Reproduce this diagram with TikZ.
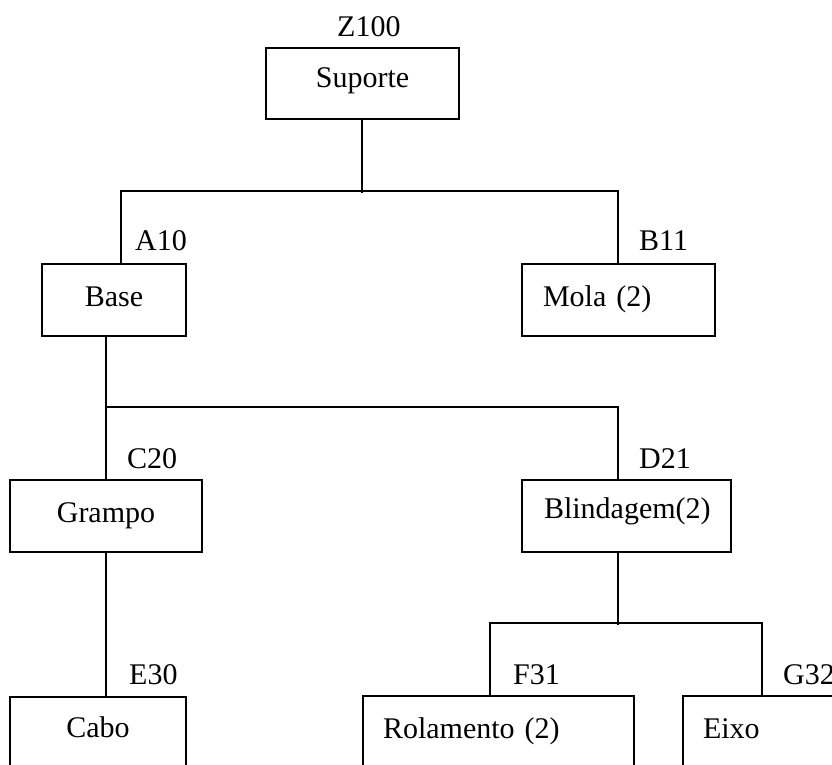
\documentclass[tikz,border=0pt]{standalone}
\usepackage{fontspec}
\setmainfont{Liberation Serif}
\begin{document}
\begin{tikzpicture}[x=1pt,y=-1pt,
  txt/.style={font=\fontsize{30}{32}\selectfont},
  part/.style={txt, draw, line width=1.8pt, minimum height=72pt,
    text height=20pt, text depth=8pt, inner ysep=0pt},
  ctr/.style={part, align=center, inner xsep=0pt},
  lft/.style={part, align=left},
  code/.style={txt, anchor=base west, inner sep=0pt},
  wire/.style={line width=1.8pt}]
\useasboundingbox (0,0) rectangle (832,765);

% part boxes
\node[ctr, minimum width=193pt, minimum height=71pt, text depth=11pt] (sup) at (362.5,83.5) {Suporte};
\node[ctr, minimum width=144pt] (base) at (114,300) {Base};
\node[lft, inner xsep=21pt, text width=151pt] (mola) at (618.5,300) {Mola (2)};
\node[ctr, minimum width=192pt] (gra) at (106,516) {Grampo};
\node[lft, inner xsep=22pt, text width=165pt, text depth=16pt] (bli) at (626.5,516) {Blindagem(2)};
\node[ctr, minimum width=176pt, text depth=12pt] (cabo) at (98,733) {Cabo};
\node[lft, inner xsep=20pt, text width=231pt] (rol) at (498.5,732) {Rolamento (2)};
\node[lft, inner xsep=20pt, text width=130pt] (eixo) at (768,732) {Eixo};

% part codes
\node[code] (zc) at (337,37) {Z100};
\node[code] (ac) at (135,250) {A10};
\node[code] (bc) at (639,250) {B11};
\node[code] (cc) at (127,468) {C20};
\node[code] (dc) at (639,468) {D21};
\node[code] (ec) at (129,684) {E30};
\node[code] (fc) at (513,684) {F31};
\node[code] (gc) at (783,684) {G32};

% tree connectors
\draw[wire] ([xshift=97pt]sup.south west) -- ++(0,73);
\draw[wire] ([xshift=80pt]base.north west) -- ++(0,-72) -| ([xshift=97pt]mola.north west);
\draw[wire] ([xshift=65pt]base.south west) -- ++(0,72);
\draw[wire] ([xshift=97pt]gra.north west) -- ++(0,-72) -| ([xshift=97pt]bli.north west);
\draw[wire] ([xshift=97pt]gra.south west) -- ([xshift=97pt]cabo.north west);
\draw[wire] ([xshift=97pt]bli.south west) -- ++(0,72);
\draw[wire] ([xshift=128pt]rol.north west) -- ++(0,-72) -| ([xshift=80pt]eixo.north west);
\end{tikzpicture}
\end{document}
